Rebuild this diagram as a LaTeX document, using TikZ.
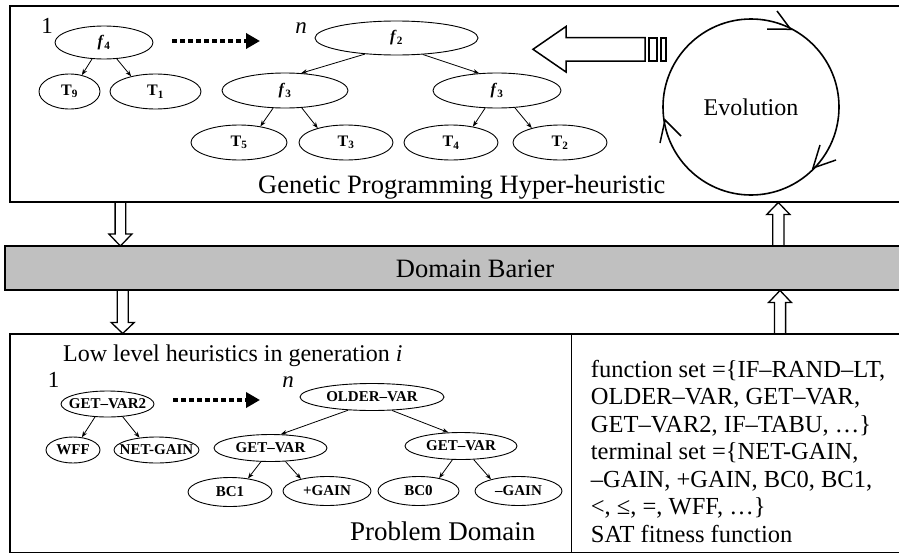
\documentclass[tikz,border=0pt]{standalone}
\usepackage{fontspec}
\setmainfont{Liberation Serif}
\usetikzlibrary{shapes.geometric,arrows.meta,calc}
\definecolor{barfill}{HTML}{C0C0C0}
\newcommand\tlbl[1]{\makebox[0pt]{\fontsize{15}{16}\selectfont\bfseries #1}}
\newcommand\ulbl[1]{\makebox[0pt]{\fontsize{16}{17}\selectfont\bfseries #1}}
\begin{document}
\begin{tikzpicture}[x=1pt,y=-1pt,
  ell/.style={ellipse,draw,line width=0.9pt,inner sep=0pt},
  tedge/.style={line width=0.8pt,-{Stealth[length=6pt,width=4.5pt]}},
  dotarrow/.style={line width=3.5pt,dash pattern=on 4.5pt off 3.5pt,-{Triangle[length=14pt,width=15pt]}},
  frameline/.style={line width=1.8pt},
  blk/.style={line width=1.3pt,line join=miter},
  numlbl/.style={anchor=base,inner sep=0pt,font=\fontsize{23}{25}\selectfont},
  bigtxt/.style={inner sep=0pt,font=\fontsize{26.5}{30}\selectfont},
  midtxt/.style={inner sep=0pt,font=\fontsize{24}{27}\selectfont},
  settxt/.style={anchor=base west,inner sep=0pt,font=\fontsize{24.5}{27.5}\selectfont}
]
\useasboundingbox (0,0) rectangle (899,554);

% ---------- top box ----------
\draw[frameline] (900,6) -- (10,6) -- (10,202) -- (900,202);

\node[numlbl] (one1) at (47,33) {1};
\node[numlbl] (n1) at (301,33) {\textit{n}};

\node[ell,minimum width=98pt,minimum height=33pt] (f4) at (104,42.5) {\ulbl{\textit{f}\textsubscript{4}}};
\node[ell,minimum width=61pt,minimum height=35pt] (T9) at (69.5,91.5) {\ulbl{T\textsubscript{9}}};
\node[ell,minimum width=91pt,minimum height=35pt] (T1) at (155.5,91.5) {\ulbl{T\textsubscript{1}}};
\draw[tedge] (f4.234) -- (T9.53);
\draw[tedge] (f4.308) -- (T1.148);

\coordinate (d1s) at (172,41);
\coordinate (d1e) at (260,41);
\draw[dotarrow] (d1s) -- (d1e);

\node[ell,minimum width=163pt,minimum height=34pt] (f2) at (396.5,38) {\ulbl{\textit{f}\textsubscript{2}}};
\node[ell,minimum width=126pt,minimum height=35pt] (f3L) at (285,90.5) {\ulbl{\textit{f}\textsubscript{3}}};
\node[ell,minimum width=128pt,minimum height=35pt] (f3R) at (497,90.5) {\ulbl{\textit{f}\textsubscript{3}}};
\node[ell,minimum width=96pt,minimum height=35pt] (T5) at (239,142.5) {\ulbl{T\textsubscript{5}}};
\node[ell,minimum width=94pt,minimum height=35pt] (T3) at (346,142.5) {\ulbl{T\textsubscript{3}}};
\node[ell,minimum width=94pt,minimum height=35pt] (T4) at (451,142.5) {\ulbl{T\textsubscript{4}}};
\node[ell,minimum width=94pt,minimum height=35pt] (T2) at (560,142.5) {\ulbl{T\textsubscript{2}}};
\draw[tedge] (f2.207) -- (f3L.47);
\draw[tedge] (f2.328) -- (f3R.136);
\draw[tedge] (f3L.236) -- (T5.37);
\draw[tedge] (f3L.314) -- (T3.153);
\draw[tedge] (f3R.236) -- (T4.36);
\draw[tedge] (f3R.316) -- (T2.153);

\node[bigtxt,anchor=base west] (gph) at (258,193) {Genetic Programming Hyper-heuristic};

% big hollow arrow
\draw[line width=1.5pt,line join=miter] (645,37.7) -- (566,37.7) -- (566,26.5) -- (533,49.3) -- (566,72) -- (566,61) -- (645,61) -- cycle;
\draw[line width=1.5pt] (649,38) rectangle (657,61);
\draw[line width=1.5pt] (661,38) rectangle (666,61);

% evolution cycle
\node[circle,draw,line width=1.6pt,minimum size=176pt,inner sep=0pt,font=\fontsize{24}{27}\selectfont] (evo) at (751,107) {Evolution};
\draw[line width=1.5pt] (777,11) -- (790.7,29.3) -- (767,29);
\draw[line width=1.5pt] (660,143) -- (665,120) -- (681,136);
\draw[line width=1.5pt] (820,145) -- (813,168) -- (836,160);

% ---------- domain barrier ----------
\draw[line width=1.2pt,fill=barfill] (5,246) rectangle (905,290);
\node[bigtxt,anchor=base] (bar) at (475,277) {Domain Barier};

% block arrows
\coordinate (a1s) at (120.4,202);
\coordinate (a1e) at (120.4,246);
\draw[blk] ($(a1s)+(-5.3,0)$) -- ($(a1e)+(-5.3,-12)$) -- ($(a1e)+(-11.5,-12)$) -- (a1e) -- ($(a1e)+(11.5,-12)$) -- ($(a1e)+(5.3,-12)$) -- ($(a1s)+(5.3,0)$);
\coordinate (a2s) at (122.7,290);
\coordinate (a2e) at (122.7,333.5);
\draw[blk] ($(a2s)+(-5.5,0)$) -- ($(a2e)+(-5.5,-11)$) -- ($(a2e)+(-11.5,-11)$) -- (a2e) -- ($(a2e)+(11.5,-11)$) -- ($(a2e)+(5.5,-11)$) -- ($(a2s)+(5.5,0)$);
\coordinate (a3s) at (778.3,246);
\coordinate (a3e) at (778.3,202.5);
\draw[blk] ($(a3s)+(-5.6,0)$) -- ($(a3e)+(-5.6,12)$) -- ($(a3e)+(-11.6,12)$) -- (a3e) -- ($(a3e)+(11.6,12)$) -- ($(a3e)+(5.6,12)$) -- ($(a3s)+(5.6,0)$);
\coordinate (a4s) at (780,334);
\coordinate (a4e) at (780,290.5);
\draw[blk] ($(a4s)+(-5.6,0)$) -- ($(a4e)+(-5.6,12)$) -- ($(a4e)+(-11.4,12)$) -- (a4e) -- ($(a4e)+(11.4,12)$) -- ($(a4e)+(5.6,12)$) -- ($(a4s)+(5.6,0)$);

% ---------- bottom box ----------
\draw[frameline] (900,334) -- (10,334) -- (10,552.5) -- (900,552.5);
\draw[line width=1.5pt] (571.7,334) -- (571.7,552.5);

\node[midtxt,anchor=base west] (llh) at (63,361.7) {Low level heuristics in generation \textit{i}};
\node[numlbl] (one2) at (53.5,387) {1};
\node[numlbl] (n2) at (288,387) {\textit{n}};

\node[ell,minimum width=93pt,minimum height=26pt] (G2) at (107.5,404) {\tlbl{GET–VAR2}};
\node[ell,minimum width=54pt,minimum height=26pt] (WFF) at (73,450) {\tlbl{WFF}};
\node[ell,minimum width=85pt,minimum height=26pt] (NET) at (156.5,450) {\tlbl{NET-GAIN}};
\draw[tedge] (G2.226) -- (WFF.55);
\draw[tedge] (G2.320) -- (NET.144);

\coordinate (d2s) at (173.3,400);
\coordinate (d2e) at (260,400);
\draw[dotarrow] (d2s) -- (d2e);

\node[ell,minimum width=144pt,minimum height=27pt] (OV) at (372,397) {\tlbl{OLDER–VAR}};
\node[ell,minimum width=113pt,minimum height=27pt] (GVL) at (270.5,448) {\tlbl{GET–VAR}};
\node[ell,minimum width=112pt,minimum height=27pt] (GVR) at (461,446) {\tlbl{GET–VAR}};
\node[ell,minimum width=84pt,minimum height=29pt] (BC1) at (230,492) {\tlbl{BC1}};
\node[ell,minimum width=88pt,minimum height=29pt] (PG) at (327,491) {\tlbl{+GAIN}};
\node[ell,minimum width=81pt,minimum height=29pt] (BC0) at (418.5,491) {\tlbl{BC0}};
\node[ell,minimum width=87pt,minimum height=29pt] (MG) at (518.5,491) {\tlbl{–GAIN}};
\draw[tedge] (OV.209) -- (GVL.53);
\draw[tedge] (OV.326) -- (GVR.133);
\draw[tedge] (GVL.235) -- (BC1.37);
\draw[tedge] (GVL.318) -- (PG.155);
\draw[tedge] (GVR.238) -- (BC0.32);
\draw[tedge] (GVR.313) -- (MG.157);

\node[bigtxt,anchor=base west,font=\fontsize{27}{30}\selectfont] (pd) at (350,540) {Problem Domain};

\node[settxt] (s1) at (590.7,377.3) {function set =\{IF–RAND–LT,};
\node[settxt] (s2) at (590.7,404.8) {OLDER–VAR, GET–VAR,};
\node[settxt] (s3) at (590.7,432.3) {GET–VAR2, IF–TABU, …\}};
\node[settxt] (s4) at (590.7,459.8) {terminal set =\{NET-GAIN,};
\node[settxt] (s5) at (590.7,487.3) {–GAIN, +GAIN, BC0, BC1,};
\node[settxt] (s6) at (590.7,514.8) {<, ≤, =, WFF, …\}};
\node[settxt] (s7) at (590.7,542.3) {SAT fitness function};
\end{tikzpicture}
\end{document}
